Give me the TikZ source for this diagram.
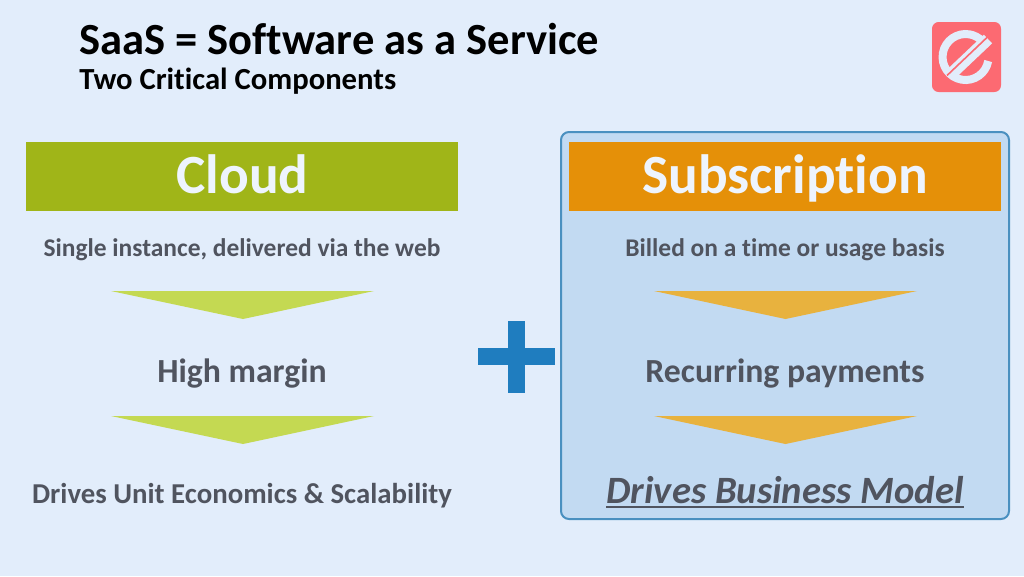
\documentclass[tikz,border=0pt]{standalone}
\usepackage{fontspec}
\setmainfont{Carlito}[Ligatures=NoCommon]
\definecolor{pagebg}{HTML}{E2EDFB}
\definecolor{panelbg}{HTML}{C2DAF2}
\definecolor{panelline}{HTML}{4A90C0}
\definecolor{cloudgreen}{HTML}{A0B518}
\definecolor{cloudtri}{HTML}{C4D952}
\definecolor{suborange}{HTML}{E59008}
\definecolor{subtri}{HTML}{E8B23E}
\definecolor{plusblue}{HTML}{1F7DBF}
\definecolor{bodygrey}{HTML}{50545F}
\definecolor{logored}{HTML}{FC6A72}
\tikzset{
  headbox/.style={minimum width=324pt, minimum height=51.75pt, inner sep=0pt},
  header/.style={anchor=base, font=\fontsize{41.5}{42}\selectfont\bfseries, text=white!40!pagebg, inner sep=0pt},
  small/.style={font=\fontsize{19.1}{20}\selectfont\bfseries, text=bodygrey, inner sep=0pt},
  mid/.style={font=\fontsize{25.3}{27}\selectfont\bfseries, text=bodygrey, inner sep=0pt},
}
\begin{document}
\begin{tikzpicture}[x=0.75pt,y=-0.75pt]
            \useasboundingbox (0,0) rectangle (1024,576);
            % Background
            \fill[pagebg] (0,0) rectangle (1024,576);

            % Title
            \node[anchor=base west, inner sep=0pt, font=\fontsize{33.4}{35}\selectfont\bfseries] (title) at (79,54) {SaaS = Software as a Service};
            \node[anchor=base west, inner sep=0pt, font=\fontsize{23}{25}\selectfont\bfseries] (subtitle) at (79,89.5) {Two Critical Components};

            % Logo
            \fill[logored, rounded corners=5pt] (932,22) rectangle (1001,92);
            \draw[pagebg, line width=6pt] (988.2,61) arc[start angle=10, delta angle=305, radius=23];
            \draw[pagebg, line width=9pt] (950,75) -- (988,39);
            \draw[logored, line width=1.2pt] (947,75.5) -- (988,36.5);

            % Subscription panel
            \draw[panelline, fill=panelbg, line width=1.5pt, rounded corners=6pt] (561,132) rectangle (1009,519);

            % Cloud column
            \node[headbox, fill=cloudgreen] (cloudbox) at (242,176.5) {};
            \node[header] (cloudhead) at (242.5,193.5) {Cloud};
            \node[small] (cloudone) at (242,250) {Single instance, delivered via the web};
            \fill[cloudtri] (111,291) -- (374,291) -- (243,319) -- cycle;
            \node[mid] (cloudtwo) at (242,374) {High margin};
            \fill[cloudtri] (111,416) -- (374,416) -- (243,444) -- cycle;
            \node[small, font=\fontsize{21.6}{23}\selectfont\bfseries] (cloudthree) at (242,496) {Drives Unit Economics \& Scalability};

            % Plus sign
            \fill[plusblue] (477.5,348) rectangle (554.5,365);
            \fill[plusblue] (507.5,321) rectangle (524.5,392.5);

            % Subscription column
            \node[headbox, fill=suborange] (subbox) at (785,176.5) {};
            \node[header] (subhead) at (785,193.5) {Subscription};
            \node[small] (subone) at (785,250) {Billed on a time or usage basis};
            \fill[subtri] (654,291) -- (917,291) -- (785.5,319) -- cycle;
            \node[mid] (subtwo) at (785,374) {Recurring payments};
            \fill[subtri] (654,416) -- (917,416) -- (785.5,444) -- cycle;
            \node[font=\fontsize{29}{31}\selectfont\bfseries\itshape, text=bodygrey, inner sep=0pt] (subthree) at (785,490) {Drives Business Model};
            \draw[bodygrey, line width=1.5pt] (606,507) -- (964,507);
        \end{tikzpicture}
\end{document}
